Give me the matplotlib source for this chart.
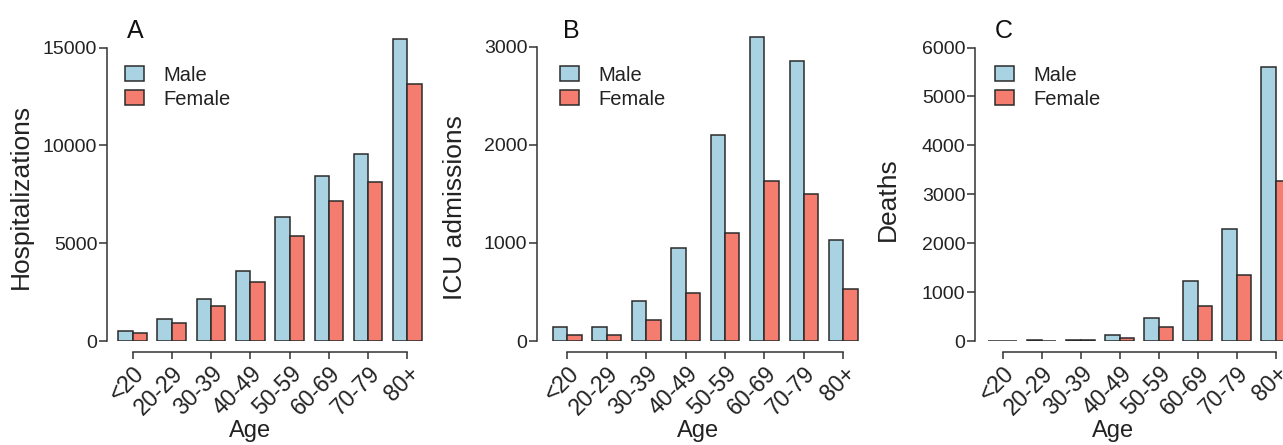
import matplotlib.pyplot as plt
import numpy as np

plt.rcParams['font.family'] = ['Liberation Sans', 'DejaVu Sans']

# Datos
grupos_edad = ["<20", "20-29", "30-39", "40-49", "50-59", "60-69", "70-79", "80+"]

hosp_hombre = [500, 1100, 2170, 3590, 6330, 8410, 9580, 15450]
hosp_mujer = [430, 920, 1800, 3000, 5370, 7180, 8140, 13130]

uci_hombre = [145, 145, 405, 945, 2095, 3100, 2855, 1030]
uci_mujer = [65, 65, 210, 485, 1105, 1635, 1495, 535]

muertes_hombre = [10, 15, 30, 130, 470, 1220, 2290, 5610]
muertes_mujer = [5, 10, 20, 70, 280, 710, 1340, 3270]

color_h = "#a9d2e2"
color_m = "#f47d6f"
texto = "#222222"

W, H = 1283, 445
fig = plt.figure(figsize=(W / 100, H / 100), dpi=100)

# posiciones en pixeles medidas sobre la referencia
paneles = [
    dict(izq=107, ancho=320, xmin=-0.65, ymax=16000, tope=15000, ticks=[0, 5000, 10000, 15000],
         ylabel="Hospitalizations", letra="A", letra_x=127, hombre=hosp_hombre, mujer=hosp_mujer,
         ylab=(-0.231, 0.463), xlab=(0.447, -0.252), leg_x=0.056),
    dict(izq=537, ancho=326, xmin=-0.77, ymax=3190, tope=3000, ticks=[0, 1000, 2000, 3000],
         ylabel="ICU admissions", letra="B", letra_x=563, hombre=uci_hombre, mujer=uci_mujer,
         ylab=(-0.215, 0.425), xlab=(0.494, -0.252), leg_x=0.071),
    dict(izq=975, ancho=320, xmin=-0.71, ymax=6400, tope=6000, ticks=[0, 1000, 2000, 3000, 4000, 5000, 6000],
         ylabel="Deaths", letra="C", letra_x=995, hombre=muertes_hombre, mujer=muertes_mujer,
         ylab=(-0.234, 0.454), xlab=(0.431, -0.252), leg_x=0.0625),
]

x = np.arange(len(grupos_edad))
ancho_barra = 0.364

for p in paneles:
    ax = fig.add_axes([p["izq"] / W, 104 / H, p["ancho"] / W, 313 / H])
    ax.bar(x - ancho_barra / 2, p["hombre"], ancho_barra, color=color_h, edgecolor="#2b2b2b",
           linewidth=1.1, label="Male")
    ax.bar(x + ancho_barra / 2, p["mujer"], ancho_barra, color=color_m, edgecolor="#2b2b2b",
           linewidth=1.1, label="Female")
    ax.set_xlim(p["xmin"], 7.5)
    ax.set_ylim(0, p["ymax"])

    for s in ["top", "right"]:
        ax.spines[s].set_visible(False)
    ax.spines["left"].set_bounds(0, p["tope"])
    ax.spines["bottom"].set_bounds(0, 7)
    ax.spines["bottom"].set_position(("outward", 8))
    for s in ["left", "bottom"]:
        ax.spines[s].set_linewidth(1.1)
        ax.spines[s].set_color("#333333")

    ax.set_yticks(p["ticks"])
    ax.set_xticks(x)
    ax.set_xticklabels(grupos_edad, rotation=45, ha="right", rotation_mode="anchor")
    ax.tick_params(axis="y", length=6, width=1.1, pad=1, labelsize=14, colors="#333333", labelcolor=texto)
    ax.tick_params(axis="x", length=5, width=1.1, pad=2, labelsize=16.5, colors="#333333", labelcolor=texto)

    ax.set_ylabel(p["ylabel"], fontsize=19, color=texto)
    ax.yaxis.set_label_coords(*p["ylab"])
    ax.set_xlabel("Age", fontsize=17, color=texto, va="top")
    ax.xaxis.set_label_coords(*p["xlab"])

    ax.legend(loc="upper left", bbox_to_anchor=(p["leg_x"], 0.88), frameon=False, fontsize=14.5,
              handlelength=0.95, handleheight=0.7, handletextpad=0.95, labelspacing=0.25,
              borderpad=0, borderaxespad=0, labelcolor=texto)

    fig.text(p["letra_x"] / W, 1 - 38 / H, p["letra"], fontsize=18, color="#111111", va="baseline")

fig.savefig("out.png", dpi=100)
